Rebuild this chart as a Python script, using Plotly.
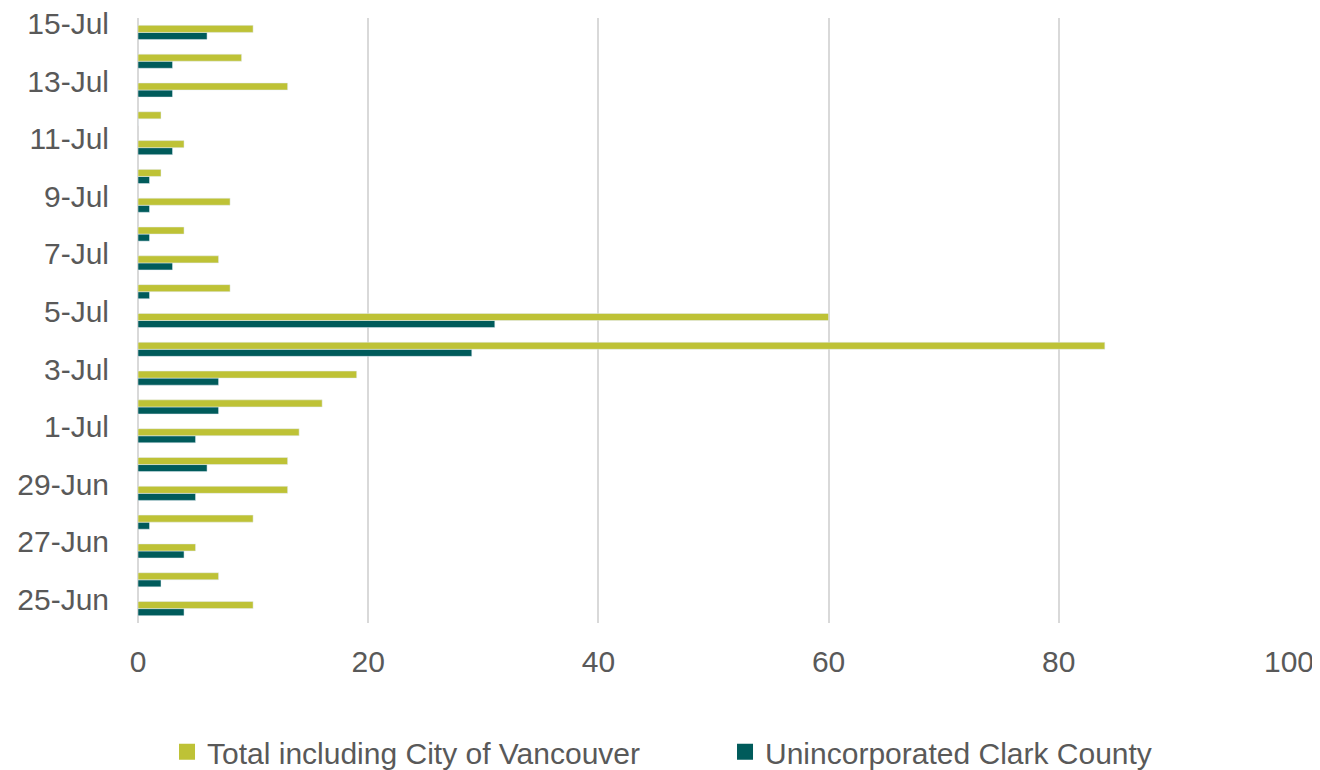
import plotly.graph_objects as go

dates = ["25-Jun", "26-Jun", "27-Jun", "28-Jun", "29-Jun", "30-Jun", "1-Jul", "2-Jul",
         "3-Jul", "4-Jul", "5-Jul", "6-Jul", "7-Jul", "8-Jul", "9-Jul", "10-Jul",
         "11-Jul", "12-Jul", "13-Jul", "14-Jul", "15-Jul"]
total_incl_vancouver = [10, 7, 5, 10, 13, 13, 14, 16, 19, 84, 60, 8, 7, 4, 8, 2, 4, 2, 13, 9, 10]
unincorporated_clark = [4, 2, 4, 1, 5, 6, 5, 7, 7, 29, 31, 1, 3, 1, 1, 1, 3, 0, 3, 3, 6]
label_dates = dates[::2]
x_ticks = [0, 20, 40, 60, 80, 100]

TEXT = "#595959"
GRID = "#D9D9D9"
FONT = "Liberation Sans, Arial, sans-serif"
C_TOTAL = "#BEC236"
C_UNINC = "#005B5B"

fig = go.Figure()
fig.add_trace(go.Bar(
    y=dates, x=unincorporated_clark, orientation="h",
    name="Unincorporated Clark County", marker_color=C_UNINC, showlegend=False,
))
fig.add_trace(go.Bar(
    y=dates, x=total_incl_vancouver, orientation="h",
    name="Total including City of Vancouver", marker_color=C_TOTAL, showlegend=False,
))
# legend entries with larger square keys
fig.add_trace(go.Scatter(
    x=[None], y=[None], mode="markers", name="Total including City of Vancouver",
    marker=dict(symbol="square", size=16, color=C_TOTAL), legendrank=1,
))
fig.add_trace(go.Scatter(
    x=[None], y=[None], mode="markers", name="Unincorporated Clark County",
    marker=dict(symbol="square", size=16, color=C_UNINC), legendrank=2,
))

fig.update_layout(
    width=1312, height=762,
    margin=dict(l=130, r=31, t=10, b=147, autoexpand=False),
    paper_bgcolor="white", plot_bgcolor="white",
    barmode="group", bargap=0.51, bargroupgap=0,
    font=dict(family=FONT, size=30, color=TEXT),
    legend=dict(
        orientation="h", xref="container", x=0.1212, xanchor="left",
        yref="paper", y=-0.213, yanchor="middle",
        font=dict(size=30, color=TEXT), itemsizing="trace",
        entrywidth=513, entrywidthmode="pixels",
    ),
    showlegend=True,
)
fig.update_xaxes(
    range=[0, 100], tickvals=x_ticks, showgrid=True, gridcolor=GRID, gridwidth=1.5,
    zeroline=True, zerolinecolor=GRID, zerolinewidth=2, showline=False,
    ticks="", ticklabelstandoff=18, tickfont=dict(size=30, color=TEXT),
    automargin=False,
)
fig.update_yaxes(
    type="category", categoryorder="array", categoryarray=dates,
    range=[-0.5, len(dates) - 0.5],
    tickvals=label_dates, ticktext=label_dates, showgrid=False, zeroline=False,
    showline=False, ticks="", ticklabelstandoff=28, ticklabelshift=-9,
    tickfont=dict(size=30, color=TEXT), automargin=False,
)

fig.write_html("out.html")
